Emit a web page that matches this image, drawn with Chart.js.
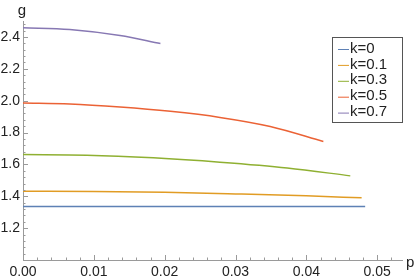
<!DOCTYPE html>
<html>
<head>
<meta charset="utf-8">
<script src="https://cdn.jsdelivr.net/npm/chart.js@4"></script>
<style>
  html, body { margin: 0; padding: 0; background: #fff; }
  #wrap { width: 415px; height: 280px; }
</style>
</head>
<body>
<div id="wrap"><canvas id="g_chart"></canvas></div>
<script>
// curves g(p) for each k
const k_labels = ["k=0", "k=0.1", "k=0.3", "k=0.5", "k=0.7"];
const k_colors = ["#5E81B5", "#E19C24", "#8FB032", "#EB6235", "#8778B3"];

const p_k0 = [0, 0.0483];
const g_k0 = [1.336, 1.336];
const p_k01 = [0, 0.01, 0.02, 0.03, 0.04, 0.0478];
const g_k01 = [1.432, 1.430, 1.425, 1.415, 1.403, 1.390];
const p_k03 = [0, 0.009, 0.0184, 0.0278, 0.0373, 0.0462];
const g_k03 = [1.662, 1.658, 1.641, 1.614, 1.578, 1.528];
const p_k05 = [0, 0.0066, 0.0137, 0.0208, 0.0278, 0.0349, 0.0424];
const g_k05 = [1.985, 1.979, 1.960, 1.933, 1.895, 1.838, 1.744];
const p_k07 = [0, 0.0066, 0.0137, 0.0194];
const g_k07 = [2.458, 2.447, 2.409, 2.359];

const x_ticks = [0, 0.01, 0.02, 0.03, 0.04, 0.05];
const y_ticks = [1.2, 1.4, 1.6, 1.8, 2.0, 2.2, 2.4];

const all_p = [p_k0, p_k01, p_k03, p_k05, p_k07];
const all_g = [g_k0, g_k01, g_k03, g_k05, g_k07];

const axis_color = "#9a9a9a";
const text_color = "#222";
const font_family = "'Liberation Sans', Arial, sans-serif";

const datasets = k_labels.map((lab, i) => ({
  label: lab,
  data: all_p[i].map((p, j) => ({ x: p, y: all_g[i][j] })),
  borderColor: k_colors[i],
  borderWidth: 1.5,
  pointRadius: 0,
  fill: false,
  cubicInterpolationMode: "monotone",
}));

// mathematica style: inward ticks, axis labels, boxed legend
const decor = {
  id: "decor",
  afterDraw(chart) {
    const c = chart.ctx;
    const xs = chart.scales.x;
    const ys = chart.scales.y;
    const x0 = xs.left, y0 = ys.bottom;
    c.save();
    c.strokeStyle = axis_color;
    c.lineWidth = 1;
    c.beginPath();
    for (let v = 0; v <= xs.max + 1e-9; v += 0.002) {
      const major = Math.abs(v / 0.01 - Math.round(v / 0.01)) < 1e-6;
      const px = Math.round(xs.getPixelForValue(v)) + 0.5;
      c.moveTo(px, y0);
      c.lineTo(px, y0 - (major ? 5 : 2.5));
    }
    for (let v = 1.04; v <= ys.max + 1e-9; v += 0.04) {
      const major = Math.abs(v / 0.2 - Math.round(v / 0.2)) < 1e-6;
      const py = Math.round(ys.getPixelForValue(v)) + 0.5;
      c.moveTo(x0, py);
      c.lineTo(x0 + (major ? 5 : 2.5), py);
    }
    c.stroke();

    c.fillStyle = text_color;
    c.font = "15px " + font_family;
    c.textAlign = "center";
    c.textBaseline = "alphabetic";
    c.fillText("g", x0 - 1, 15);
    c.textAlign = "left";
    c.fillText("p", xs.right + 4, y0 + 7);

    // legend box
    const bx = 332.5, by = 37.5, bw = 70, bh = 85;
    c.fillStyle = "#fff";
    c.fillRect(bx, by, bw, bh);
    c.strokeStyle = "#555";
    c.strokeRect(bx, by, bw, bh);
    c.font = "15px " + font_family;
    c.textBaseline = "middle";
    chart.data.datasets.forEach((d, i) => {
      const ry = 48.5 + i * 15.9;
      c.strokeStyle = d.borderColor;
      c.lineWidth = 1;
      c.beginPath();
      c.moveTo(338, ry + 1);
      c.lineTo(349, ry + 1);
      c.stroke();
      c.fillStyle = text_color;
      c.fillText(d.label, 350, ry);
    });
    c.restore();
  },
};

const g_config = {
  type: "line",
  data: { datasets: datasets },
  options: {
    responsive: false,
    animation: false,
    layout: { padding: { top: 21, right: 13, left: 0, bottom: 0 } },
    plugins: {
      legend: { display: false },
      tooltip: { enabled: false },
    },
    scales: {
      x: {
        type: "linear",
        min: 0,
        max: 0.0535,
        afterFit(s) { s.height = 20; },
        afterBuildTicks(s) { s.ticks = x_ticks.map((v) => ({ value: v })); },
        grid: { display: false, drawTicks: false },
        border: { display: true, color: axis_color, width: 1 },
        ticks: {
          padding: 4,
          color: text_color,
          font: { size: 14, family: font_family },
          maxRotation: 0,
          callback: (v) => v.toFixed(2),
        },
      },
      y: {
        type: "linear",
        min: 1.0,
        max: 2.5,
        afterFit(s) { s.width = 23; },
        afterBuildTicks(s) { s.ticks = y_ticks.map((v) => ({ value: v })); },
        grid: { display: false, drawTicks: false },
        border: { display: true, color: axis_color, width: 1 },
        ticks: {
          padding: 3,
          color: text_color,
          font: { size: 14, family: font_family },
          callback: (v) => v.toFixed(1),
        },
      },
    },
  },
  plugins: [decor],
};

const g_canvas = document.getElementById("g_chart");
g_canvas.width = 415;
g_canvas.height = 280;
const g_chart = new Chart(g_canvas, g_config);
</script>
</body>
</html>
